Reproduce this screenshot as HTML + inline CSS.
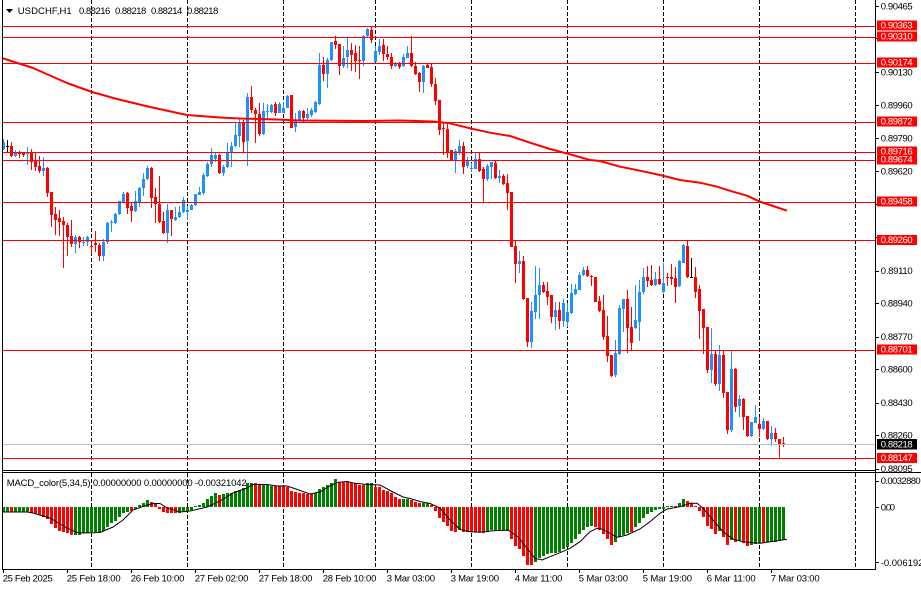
<!DOCTYPE html>
<html><head><meta charset="utf-8">
<style>
html,body{margin:0;padding:0;background:#fff;overflow:hidden;}
svg{display:block;}
text{font-family:"Liberation Sans",Arial,sans-serif;font-size:9.5px;fill:#000;}
.w{fill:#fff;}
</style></head><body>
<svg id="s" width="921" height="590" viewBox="0 0 921 590" xmlns="http://www.w3.org/2000/svg">
<rect width="921" height="590" fill="#fff"/>
<g id="grid" stroke="#000" stroke-width="1" stroke-dasharray="4,2"></g>
<g id="cd"></g>
<g id="hist"></g>
<polyline id="ma" fill="none" stroke="#ff0000" stroke-width="2" stroke-linejoin="round" points="2,58 33,68 67,83 92,92 117,99 150,107 187,115 220,117.5 240,118.5 277,119.5 300,120.5 363,121 400,120.5 433,121.5 450,123.3 470,128.3 490,132.7 510,136 530,142.7 550,149 570,154.3 590,160 600,161 620,166.7 640,170.7 660,175 680,180 700,182.7 717,186.7 733,191.7 747,195.7 760,201.7 773,206 787,210.7"/>
<polyline id="sig" fill="none" stroke="#000" stroke-width="1" points="3,512 27,512 33,513 50,518 67,528 77,532.5 83,533 100,532.5 113,527 123,520 133,510 147,505 153,503.5 160,503.5 167,508 180,512 190,511 207,507 220,501 233,493 247,488 253,484.5 267,484.5 277,486 287,486 293,488 310,494 320,492 330,486 337,482.5 347,481.5 353,483 367,484.5 380,485 393,492 403,497 410,498.5 420,501.5 430,503.5 440,508 450,520 460,529.3 470,531.7 480,532.3 493,530.7 508,530 518,536.7 527,548.3 535,558.3 542,560 550,556.7 560,552.7 570,548.3 580,541.7 590,531.7 597,528.3 603,529.3 610,533.3 617,537.3 627,535 640,529 650,521.7 660,513.3 667,509 680,506.7 690,503.3 697,503.3 703,508.3 713,520 723,531.7 733,539 743,541.7 760,543.3 770,541.7 787,539.3"/>
<g id="hl"></g>
<!-- borders -->
<rect x="2" y="0" width="1" height="570" fill="#000"/>
<rect x="875" y="0" width="1" height="570" fill="#000"/>
<rect x="2" y="470" width="874" height="1" fill="#000"/>
<rect x="2" y="472" width="919" height="1" fill="#000"/>
<rect x="2" y="569" width="874" height="1" fill="#000"/>
<g id="ticks" fill="#000"></g>
<!-- top label -->
<polygon points="6,9 13,9 9.5,13" fill="#000"/>
<text x="17.7" y="14" textLength="54" lengthAdjust="spacing">USDCHF,H1</text>
<text x="79" y="14" textLength="31.3" lengthAdjust="spacing">0.88216</text>
<text x="115" y="14" textLength="31.3" lengthAdjust="spacing">0.88218</text>
<text x="151" y="14" textLength="31.3" lengthAdjust="spacing">0.88214</text>
<text x="187" y="14" textLength="31.3" lengthAdjust="spacing">0.88218</text>
<!-- MACD label -->
<text x="6.7" y="486" textLength="240" lengthAdjust="spacing">MACD_color(5,34,5) 0.00000000 0.00000000 -0.00321042</text>
<!-- price axis labels -->
<g>
<text x="880.7" y="9.3" textLength="32" lengthAdjust="spacing">0.90465</text>
<text x="880.7" y="75.3" textLength="32" lengthAdjust="spacing">0.90130</text>
<text x="880.7" y="108.3" textLength="32" lengthAdjust="spacing">0.89960</text>
<text x="880.7" y="141.3" textLength="32" lengthAdjust="spacing">0.89790</text>
<text x="880.7" y="174.3" textLength="32" lengthAdjust="spacing">0.89620</text>
<text x="880.7" y="274" textLength="32" lengthAdjust="spacing">0.89110</text>
<text x="880.7" y="306.6" textLength="32" lengthAdjust="spacing">0.88940</text>
<text x="880.7" y="340" textLength="32" lengthAdjust="spacing">0.88770</text>
<text x="880.7" y="372.6" textLength="32" lengthAdjust="spacing">0.88600</text>
<text x="880.7" y="406" textLength="32" lengthAdjust="spacing">0.88430</text>
<text x="880.7" y="438.6" textLength="32" lengthAdjust="spacing">0.88260</text>
<text x="880.7" y="472" textLength="32" lengthAdjust="spacing">0.88095</text>
</g>
<!-- boxes -->
<rect x="877" y="20.5" width="40" height="10" fill="#ff0000"/><text class="w" x="880.7" y="28.6" textLength="32" lengthAdjust="spacing">0.90363</text>
<rect x="877" y="31.5" width="40" height="10" fill="#ff0000"/><text class="w" x="880.7" y="39.6" textLength="32" lengthAdjust="spacing">0.90310</text>
<rect x="877" y="57.5" width="40" height="10" fill="#ff0000"/><text class="w" x="880.7" y="65.6" textLength="32" lengthAdjust="spacing">0.90174</text>
<rect x="877" y="116.5" width="40" height="10" fill="#ff0000"/><text class="w" x="880.7" y="124.6" textLength="32" lengthAdjust="spacing">0.89872</text>
<rect x="877" y="146.5" width="40" height="10" fill="#ff0000"/><text class="w" x="880.7" y="154.6" textLength="32" lengthAdjust="spacing">0.89716</text>
<rect x="877" y="154.5" width="40" height="10" fill="#ff0000"/><text class="w" x="880.7" y="162.6" textLength="32" lengthAdjust="spacing">0.89674</text>
<rect x="877" y="196.5" width="40" height="10" fill="#ff0000"/><text class="w" x="880.7" y="204.6" textLength="32" lengthAdjust="spacing">0.89458</text>
<rect x="877" y="235" width="40" height="10" fill="#ff0000"/><text class="w" x="880.7" y="243.1" textLength="32" lengthAdjust="spacing">0.89260</text>
<rect x="877" y="344.5" width="40" height="10" fill="#ff0000"/><text class="w" x="880.7" y="352.6" textLength="32" lengthAdjust="spacing">0.88701</text>
<rect x="877" y="439" width="40" height="10.5" fill="#000"/><text class="w" x="880.7" y="447.3" textLength="32" lengthAdjust="spacing">0.88218</text>
<rect x="877" y="453" width="40" height="10" fill="#ff0000"/><text class="w" x="880.7" y="461.1" textLength="32" lengthAdjust="spacing">0.88147</text>
<!-- sub axis labels -->
<text x="880.7" y="484" textLength="40" lengthAdjust="spacing">0.0032880</text>
<text x="880.7" y="510.6" textLength="14.3" lengthAdjust="spacing">0.00</text>
<text x="880.7" y="566">-0.0061925</text>
<!-- time labels -->
<text x="2.7" y="581.7" textLength="50" lengthAdjust="spacing">25 Feb 2025</text>
<text x="66.7" y="581.7" textLength="54" lengthAdjust="spacing">25 Feb 18:00</text>
<text x="130.7" y="581.7" textLength="53.7" lengthAdjust="spacing">26 Feb 10:00</text>
<text x="194.7" y="581.7" textLength="53.7" lengthAdjust="spacing">27 Feb 02:00</text>
<text x="258.7" y="581.7" textLength="53.7" lengthAdjust="spacing">27 Feb 18:00</text>
<text x="322.7" y="581.7" textLength="53.7" lengthAdjust="spacing">28 Feb 10:00</text>
<text x="386.7" y="581.7" textLength="48.3" lengthAdjust="spacing">3 Mar 03:00</text>
<text x="450.7" y="581.7" textLength="48.3" lengthAdjust="spacing">3 Mar 19:00</text>
<text x="514.7" y="581.7" textLength="47.7" lengthAdjust="spacing">4 Mar 11:00</text>
<text x="578.7" y="581.7" textLength="49.3" lengthAdjust="spacing">5 Mar 03:00</text>
<text x="642.7" y="581.7" textLength="49.3" lengthAdjust="spacing">5 Mar 19:00</text>
<text x="706.7" y="581.7" textLength="49" lengthAdjust="spacing">6 Mar 11:00</text>
<text x="770.7" y="581.7" textLength="49" lengthAdjust="spacing">7 Mar 03:00</text>
</svg>
<script>
(function(){
var NS="http://www.w3.org/2000/svg";
function el(p,t,a){var e=document.createElementNS(NS,t);for(var k in a)e.setAttribute(k,a[k]);p.appendChild(e);return e;}
var C={b:"#1e90ff",r:"#ff0000",k:"#000000",g:"#008000"};
// grid
var grid=document.getElementById('grid');
[91,187,283,375,471,567,663,759,855].forEach(function(x){
 el(grid,'line',{x1:x+0.5,y1:0,x2:x+0.5,y2:470});
 el(grid,'line',{x1:x+0.5,y1:473,x2:x+0.5,y2:569});
});
// candles
var cs="b,139,150,142,149;k,140,152,146,147;r,142,157,146,156;b,150,157,152,156;r,151,158,152,154;r,152,157,152,155;b,147,165,152,154;r,149,170,152,162;r,152,171,160,167;r,156,173,166,171;"+
"b,157,176,168,171;r,167,197,168,193;r,192,227,192,215;r,207,235,214,220;r,210,236,218,222;r,217,268,221,225;r,223,256,225,237;r,220,247,236,244;b,235,253,237,244;r,236,248,237,242;"+
"b,237,246,242,243;b,236,246,237,242;r,242,254,246,247;r,231,252,243,245;r,243,261,245,256;b,239,261,242,256;b,222,244,223,242;b,220,232,222,223;b,213,224,214,223;b,201,215,201,214;"+
"b,192,203,194,202;r,192,214,193,208;r,202,222,206,211;b,191,212,201,211;b,187,207,188,202;b,173,196,179,188;b,166,180,168,179;r,167,208,168,198;r,188,223,197,204;r,176,223,204,222;"+
"r,212,234,221,233;b,204,243,210,233;r,210,236,210,219;b,207,221,217,220;b,206,218,212,217;b,197,213,200,212;b,206,220,210,212;b,204,210,205,210;b,194,206,194,205;b,187,195,192,195;"+
"b,173,195,175,193;b,162,177,164,176;b,148,167,155,164;b,152,162,155,159;r,154,174,155,173;b,165,176,167,173;b,143,168,153,167;b,142,167,146,153;b,123,147,135,146;b,119,147,123,136;"+
"r,120,152,123,142;b,93,166,97,141;r,86,113,97,110;r,108,143,110,114;r,103,136,114,134;b,103,135,111,134;b,104,120,111,112;b,104,113,105,112;r,102,116,104,113;b,102,113,104,113;"+
"b,102,113,108,113;b,95,108,96,108;r,95,128,95,128;b,113,132,121,127;b,110,121,111,120;r,110,123,111,118;b,108,120,114,118;b,108,117,110,115;b,101,113,102,112;b,53,105,65,104;"+
"r,57,81,65,74;b,58,88,60,74;b,42,61,42,60;r,36,49,41,45;r,44,75,44,66;b,46,68,58,66;b,38,68,50,57;r,43,71,50,55;r,45,72,53,61;r,46,79,60,61;"+
"b,35,66,36,61;b,28,37,29,36;r,26,43,30,40;b,46,62,51,62;b,39,55,46,52;r,39,61,45,54;r,46,60,54,57;r,53,69,57,66;b,62,67,64,66;r,62,69,63,67;"+
"b,54,67,57,66;b,46,58,53,58;r,36,67,53,66;r,62,75,66,74;r,72,92,73,82;b,65,93,66,82;r,64,68,65,68;r,63,87,67,84;r,78,105,84,101;r,100,135,100,130;"+
"r,122,155,128,129;r,123,158,129,153;r,150,160,150,160;b,149,173,151,160;b,140,155,146,152;r,142,174,146,167;b,157,168,161,166;b,163,172,168,169;b,153,169,159,169;r,153,172,159,171;"+
"r,167,203,169,179;b,164,181,166,179;b,162,179,162,167;r,161,179,163,178;b,170,183,176,178;r,174,185,176,184;r,174,210,183,193;r,192,247,192,247;r,240,283,246,264;b,251,273,261,264;"+
"r,256,300,261,299;r,298,347,298,342;b,302,348,311,342;b,266,319,295,312;b,268,319,285,295;r,282,293,285,292;r,282,305,291,297;r,295,323,295,317;b,302,330,310,317;r,302,329,310,321;"+
"b,299,327,303,321;b,303,327,312,322;b,284,314,293,313;b,284,295,289,294;b,272,290,275,290;b,267,276,270,275;r,266,277,270,276;r,275,286,276,277;r,277,302,277,302;r,296,312,301,311;"+
"r,295,340,310,337;r,316,362,336,356;r,355,377,355,376;b,340,377,353,375;b,305,355,308,354;b,299,332,299,309;r,290,353,299,328;r,307,350,327,343;b,285,329,320,328;b,280,341,292,322;"+
"b,268,294,277,292;r,266,287,277,281;r,265,286,280,285;b,272,286,279,285;r,266,285,279,284;b,263,293,283,292;r,273,286,277,278;r,264,285,277,279;r,267,303,278,287;b,260,287,261,286;"+
"b,244,263,245,263;r,241,278,246,277;k,258,278,277,278;r,267,298,277,292;r,285,339,289,311;r,309,354,309,328;r,327,373,327,370;b,328,383,354,370;r,351,386,354,384;b,345,391,355,384;"+
"r,351,398,355,393;r,392,434,392,430;b,351,432,369,430;r,368,412,369,407;b,395,417,399,406;r,398,430,399,417;r,416,437,416,436;b,422,437,422,436;b,405,423,417,423;r,417,437,424,429;"+
"b,418,430,421,429;r,421,440,421,439;b,426,446,433,439;r,428,442,433,439;r,439,458,439,444;r,437,447,443,445;b,444,445,444,445";
var cd=document.getElementById('cd');
cs.split(';').forEach(function(s,i){
 var d=s.split(','),col=C[d[0]],c=3+4*i,hi=+d[1],lo=+d[2],t=+d[3],b=+d[4];
 el(cd,'rect',{x:c,y:hi,width:1,height:Math.max(1,lo-hi),fill:col});
 el(cd,'rect',{x:c-1,y:t,width:3,height:Math.max(1,b-t),fill:col});
});
// histogram
var hs="g512 g512 r512 g512 g512 g512 g512 r513 r514 r515 r517 r519 r524 r528 r531 r532 r533 r535 g535 g535 g533 g533 g532 g532 g532 g531 g527 g523 g521 g517 g513 g512 r511 g509 g505 g503 g500 r502 r503 r509 r512 r513 r513 r513 g513 g512 g511 g510 g506 g505 g503 g499 g496 g493 r495 g494 g493 g493 g491 g490 g488 g483 g483 r483 r485 g485 g485 g486 r486 r486 r486 r487 r491 r492 r493 r493 r494 r494 g493 g489 g487 g485 g483 g479 r482 r482 r482 r483 r483 r485 r485 g483 g483 r487 r487 r490 r491 r493 r497 r499 g499 g499 r500 r502 r503 g503 g503 r505 r511 r518 r522 r526 r531 r532 g530 r532 r532 r532 r532 r532 r533 g532 g530 g530 g530 g530 g531 r539 r546 r549 r556 r565 r565 g562 g558 g556 g554 g553 g553 g552 g549 g547 g543 g539 g534 g530 g527 g526 r527 r530 r534 r539 r545 g542 g537 g535 g533 r532 g527 g523 g518 g514 g512 g510 g509 g509 g506 g506 r506 g503 g499 r501 r503 r506 r511 r517 r526 r529 r534 g531 r537 r545 g540 r542 g541 r543 r546 g545 g544 g543 r543 g542 g542 g542 g541 g540";
var hg=document.getElementById('hist'),Z=507;
hs.split(' ').forEach(function(s,i){
 var col=C[s[0]],y=+s.slice(1),c=3+4*i;
 if(y>=Z) el(hg,'rect',{x:c-1,y:Z,width:3,height:Math.max(1,y-Z),fill:col});
 else el(hg,'rect',{x:c-1,y:y,width:3,height:Z-y,fill:col});
});
// horizontal lines
var hl=document.getElementById('hl');
[26,37,63,122,152,160,202,240,350,458].forEach(function(y){el(hl,'rect',{x:3,y:y,width:872,height:1,fill:"#ff0000"});});
el(hl,'rect',{x:3,y:444,width:872,height:1,fill:"#c0c0c0"});
// ticks
var tk=document.getElementById('ticks');
[6,38,72,105,138,171,204,237,270.7,303.3,336.7,369.3,402.7,435.3,468.7,480.7,507.3,562].forEach(function(y){el(tk,'rect',{x:876,y:Math.round(y),width:3,height:1});});
for(var n=0;n<13;n++){el(tk,'rect',{x:3+64*n,y:570,width:1,height:3});}
})();
</script>
</body></html>
